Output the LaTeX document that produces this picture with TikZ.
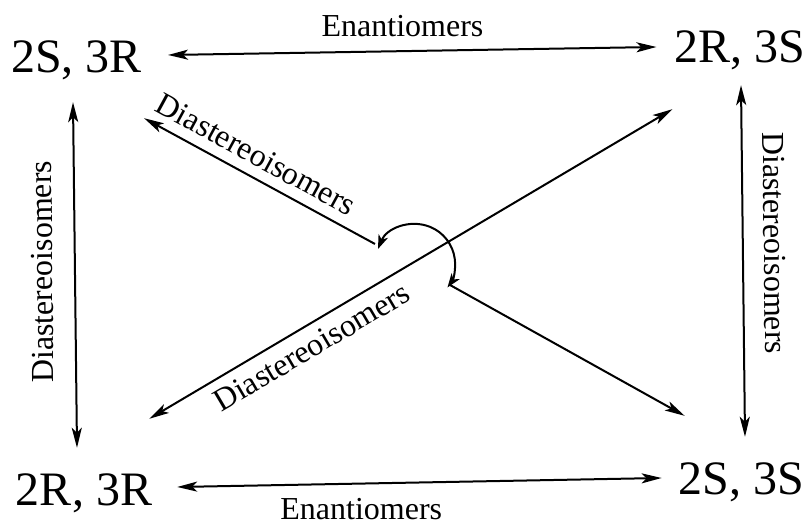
\documentclass[tikz,border=0pt]{standalone}
\usepackage{fontspec}
\setmainfont{Liberation Serif}
\usetikzlibrary{arrows.meta}

\begin{document}
\begin{tikzpicture}[
  x=1pt, y=1pt,
  isomer/.style={inner sep=0pt, text height=32pt, text depth=0pt,
                 font=\fontsize{48}{50}\selectfont},
  rel/.style={inner sep=0pt, font=\fontsize{32}{34}\selectfont},
  both/.style={{Stealth[length=20pt, width=10pt, inset=5pt]}-{Stealth[length=20pt, width=10pt, inset=5pt]},
               line width=2pt},
  tohead/.style={-{Stealth[length=20pt, width=10pt, inset=5pt]}, line width=2pt},
  fromhead/.style={{Stealth[length=20pt, width=10pt, inset=5pt]}-, line width=2pt},
  hook/.style={{Stealth[length=14pt, width=10pt, inset=4pt]}-{Stealth[length=14pt, width=10pt, inset=4pt]},
               line width=2pt}
]
  \useasboundingbox (0,0) rectangle (809,529);

  % Isomers
  \node[isomer] (s3r) at (76.5,472) {2S, 3R};
  \node[isomer] (r3s) at (740,482) {2R, 3S};
  \node[isomer] (r3r) at (84,39) {2R, 3R};
  \node[isomer] (s3s) at (741.5,50) {2S, 3S};

  % Ends of the broken diagonal
  \coordinate (hookA) at (375,285);
  \coordinate (hookB) at (450,244);

  % Enantiomers
  \draw[both] ([shift={(26,2)}]s3r.east) -- ([shift={(-18,0)}]r3s.west)
    node[rel, pos=0.48, above=13pt] {Enantiomers};
  \draw[both] ([shift={(25,3)}]r3r.east) -- ([shift={(-17,1)}]s3s.west)
    node[rel, pos=0.38, below=14pt] {Enantiomers};

  % Diastereoisomers
  \draw[both] ([shift={(-7,26)}]r3r.north) -- ([shift={(-3.5,-29)}]s3r.south)
    node[rel, sloped, allow upside down, pos=0.51, above=21pt] {Diastereoisomers};
  \draw[both] ([shift={(1,-22)}]r3s.south) -- ([shift={(3.5,26)}]s3s.north)
    node[rel, sloped, pos=0.45, above=20pt] {Diastereoisomers};
  \draw[both] ([shift={(-3,55)}]r3r.north east) -- ([shift={(-2,-46)}]r3s.south west)
    node[rel, sloped, pos=0.29, below=9pt] {Diastereoisomers};
  \draw[fromhead] ([shift={(2,-45)}]s3r.south east) -- (hookA)
    node[rel, sloped, pos=0.44, above=10pt] {Diastereoisomers};
  \draw[tohead] (hookB) -- ([shift={(6,47)}]s3s.north west);
  \draw[hook] ([shift={(3,-5)}]hookA) arc[start angle=158, end angle=-36, radius=40];
\end{tikzpicture}
\end{document}
